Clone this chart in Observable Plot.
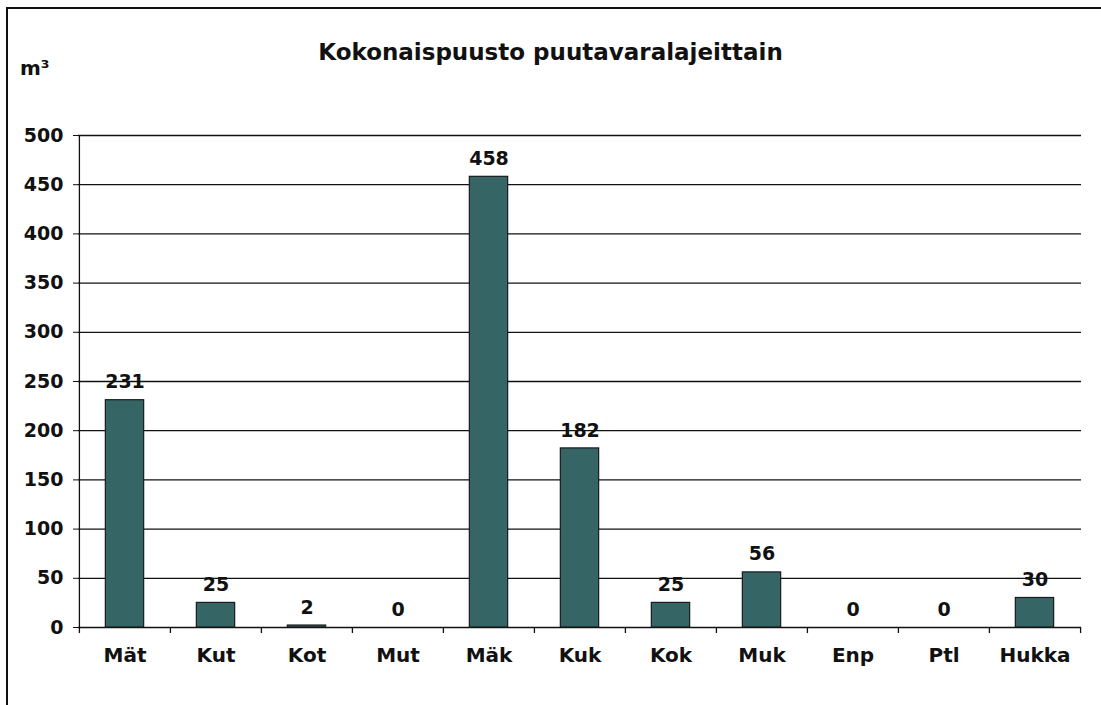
<!DOCTYPE html>
<html>
<head>
<meta charset="utf-8">
<script src="https://cdn.jsdelivr.net/npm/d3@7"></script>
<script src="https://cdn.jsdelivr.net/npm/@observablehq/plot@0.6"></script>
<style>
  html, body { margin: 0; padding: 0; background: #fff; }
  #wrap { position: relative; width: 1101px; height: 705px; overflow: hidden; font-family: "DejaVu Sans", Verdana, sans-serif; }
  #border { position: absolute; left: 6px; top: 7px; right: -10px; bottom: -10px; border-left: 2px solid #111; border-top: 2px solid #111; }
  #title { position: absolute; left: 0; width: 1101px; top: 41px; line-height: 23px; text-align: center; font-weight: bold; font-size: 23px; color: #111; }
  #unit { position: absolute; left: 20px; top: 58px; line-height: 20px; font-weight: bold; font-size: 20px; color: #111; }
  svg { position: absolute; left: 0; top: 0; }
</style>
</head>
<body>
<div id="wrap">
  <div id="border"></div>
  <div id="title">Kokonaispuusto puutavaralajeittain</div>
  <div id="unit">m³</div>
</div>
<script>
const categories = ["Mät", "Kut", "Kot", "Mut", "Mäk", "Kuk", "Kok", "Muk", "Enp", "Ptl", "Hukka"];
const values = [231, 25, 2, 0, 458, 182, 25, 56, 0, 0, 30];
const yTicks = [0, 50, 100, 150, 200, 250, 300, 350, 400, 450, 500];

const data = categories.map((c, i) => ({cat: c, value: values[i]}));

const W = 1101, H = 705, mL = 78, mR = 20, mT = 135, mB = 78;
const bw = (W - mL - mR) / categories.length;
const barW = 38.5;
const inset = (bw - barW) / 2;

const chart = Plot.plot({
  width: W,
  height: H,
  marginLeft: mL,
  marginRight: mR,
  marginTop: mT,
  marginBottom: mB,
  style: {fontFamily: "'DejaVu Sans', Verdana, sans-serif", fontWeight: "bold", fontSize: "19px", color: "#111", background: "transparent", overflow: "visible"},
  x: {domain: categories, padding: 0, label: null},
  y: {domain: [0, 500], ticks: yTicks, label: null},
  marks: [
    Plot.ruleY(yTicks, {stroke: "#111", strokeWidth: 1.3}),
    Plot.barY(data, {x: "cat", y: "value", fill: "#356565", stroke: "#1a1a1a", strokeWidth: 1.2, insetLeft: inset, insetRight: inset}),
    // category boundary ticks
    Plot.ruleX(categories, {x: d => d, y1: 0, y2: 0, dx: -bw / 2, insetBottom: -6, stroke: "#111", strokeWidth: 1.3}),
    Plot.ruleX(categories.slice(-1), {x: d => d, y1: 0, y2: 0, dx: bw / 2, insetBottom: -6, stroke: "#111", strokeWidth: 1.3}),
    // vertical axis line
    Plot.ruleX(categories.slice(0, 1), {x: d => d, y1: 0, y2: 500, dx: -bw / 2, stroke: "#111", strokeWidth: 1.3}),
    Plot.axisY({ticks: yTicks, tickSize: 5, tickPadding: 10, stroke: "#111", fontSize: 19, fontWeight: "bold", label: null}),
    Plot.axisX({tickSize: 0, tickPadding: 20, fontSize: 20, fontWeight: "bold", label: null}),
    Plot.text(data, {x: "cat", y: "value", text: d => String(d.value), dy: -18, fontSize: 19, fontWeight: "bold", fill: "#111"})
  ]
});
document.getElementById("wrap").appendChild(chart);
</script>
</body>
</html>
